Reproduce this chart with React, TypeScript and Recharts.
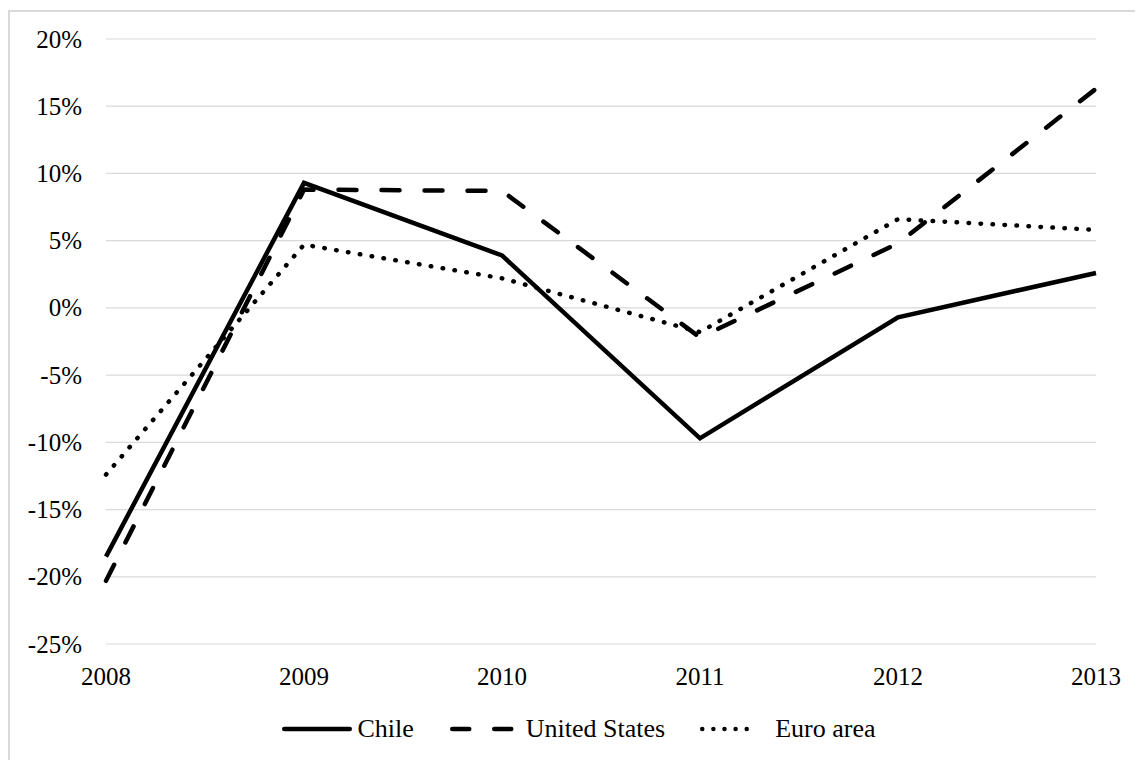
import React from 'react';
import { LineChart, Line, XAxis, YAxis, CartesianGrid, Legend } from 'recharts';

const YEARS = ['2008', '2009', '2010', '2011', '2012', '2013'];
const CHILE = [-18.5, 9.3, 3.9, -9.7, -0.7, 2.6];
const UNITED_STATES = [-20.3, 8.8, 8.7, -2.2, 4.8, 16.3];
const EURO_AREA = [-12.4, 4.7, 2.2, -1.8, 6.6, 5.8];
const Y_TICKS = [-25, -20, -15, -10, -5, 0, 5, 10, 15, 20];

const FONT = 'Times New Roman, Liberation Serif, DejaVu Serif, serif';
const GRID = '#d9d9d9';

const data = YEARS.map((year, i) => ({
  year,
  chile: CHILE[i],
  us: UNITED_STATES[i],
  euro: EURO_AREA[i],
}));

const AxisTick = ({ x, y, payload, anchor, dy, format }: any) => (
  <text x={x} y={y} dy={dy} textAnchor={anchor} fill="#000" fontSize={25} fontFamily={FONT}>
    {format ? format(payload.value) : payload.value}
  </text>
);

const LegendContent = () => (
  <div
    style={{
      display: 'flex',
      justifyContent: 'center',
      alignItems: 'center',
      height: 30,
      fontFamily: FONT,
      fontSize: 26,
      color: '#000',
      paddingLeft: 52,
    }}
  >
    <svg width={70} height={10}>
      <line x1={2.25} y1={5} x2={67.75} y2={5} stroke="#000" strokeWidth={4.5} strokeLinecap="round" />
    </svg>
    <span style={{ marginLeft: 5 }}>Chile</span>
    <svg width={65} height={10} style={{ marginLeft: 36 }}>
      <line x1={2.25} y1={5} x2={62.75} y2={5} stroke="#000" strokeWidth={4.5} strokeLinecap="round" strokeDasharray="17 25" />
    </svg>
    <span style={{ marginLeft: 11 }}>United States</span>
    <svg width={60} height={10} style={{ marginLeft: 35 }}>
      <line x1={2.25} y1={5} x2={57.8} y2={5} stroke="#000" strokeWidth={4.5} strokeLinecap="round" strokeDasharray="0.01 11.1" />
    </svg>
    <span style={{ marginLeft: 15 }}>Euro area</span>
  </div>
);

export default function App() {
  return (
    <div
      style={{
        marginTop: 2,
        width: 1133,
        height: 748,
        borderLeft: `2px solid ${GRID}`,
        borderTop: `2px solid ${GRID}`,
        background: '#fff',
        fontFamily: FONT,
      }}
    >
      <LineChart width={1133} height={748} data={data} margin={{ top: 27, right: 47, left: 0, bottom: 16 }}>
        <CartesianGrid vertical={false} stroke={GRID} strokeWidth={1.2} />
        <XAxis
          dataKey="year"
          axisLine={false}
          tickLine={false}
          tickSize={6}
          tickMargin={17}
          height={70}
          interval={0}
          tick={<AxisTick anchor="middle" dy={17.5} />}
        />
        <YAxis
          domain={[-25, 20]}
          ticks={Y_TICKS}
          axisLine={false}
          tickLine={false}
          tickSize={6}
          tickMargin={18}
          width={96}
          tick={<AxisTick anchor="end" dy={8.5} format={(v: number) => `${v}%`} />}
        />
        <Legend verticalAlign="bottom" height={30} content={<LegendContent />} />
        <Line dataKey="chile" name="Chile" stroke="#000" strokeWidth={4.5} dot={false} isAnimationActive={false} />
        <Line
          dataKey="us"
          name="United States"
          stroke="#000"
          strokeWidth={4.5}
          strokeDasharray="18 25"
          strokeLinecap="round"
          dot={false}
          isAnimationActive={false}
        />
        <Line
          dataKey="euro"
          name="Euro area"
          stroke="#000"
          strokeWidth={4.5}
          strokeDasharray="0.5 11.5"
          strokeLinecap="round"
          dot={false}
          isAnimationActive={false}
        />
      </LineChart>
    </div>
  );
}
